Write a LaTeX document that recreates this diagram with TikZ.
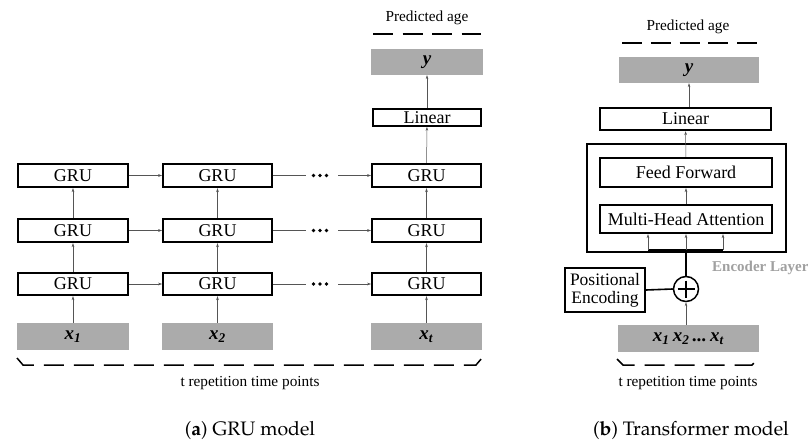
\documentclass[tikz,border=0pt]{standalone}
\usepackage{fontspec}
\setmainfont{Liberation Serif}
\usetikzlibrary{arrows.meta,calc}
\definecolor{boxgray}{HTML}{ABABAB}
\definecolor{encgray}{HTML}{A0A0A0}
\definecolor{arrgray}{HTML}{555555}
\newcommand{\bx}[1]{\textbf{\textit{x}}\textsubscript{\textbf{\textit{#1}}}}
\newcommand{\capfont}{\fontencoding{OT1}\fontfamily{ppl}\fontsize{19.5}{22}\selectfont}
\begin{document}
\begin{tikzpicture}[x=1pt,y=-1pt,
  blk/.style={draw, line width=1.8pt, inner sep=0pt, font=\fontsize{18}{18}\selectfont},
  graybox/.style={fill=boxgray, inner sep=0pt, font=\fontsize{19}{19}\selectfont},
  arr/.style={draw=arrgray, line width=0.5pt, -{Stealth[length=4pt,width=2.6pt]}},
  thinln/.style={draw=arrgray, line width=0.5pt},
  thk/.style={draw, line width=1.6pt},
  brk/.style={draw, line width=1.5pt, dash pattern=on 20pt off 10pt},
  smalltxt/.style={font=\fontsize{15.3}{16}\selectfont, inner sep=0pt}
]
\useasboundingbox (0,0) rectangle (808,446);

% ---------- GRU model ----------
\foreach \c/\cx/\w in {1/73/110, 2/217.5/109, 3/426.5/109}{
  \node[blk, minimum width=\w pt, minimum height=23.5pt] (g\c3) at (\cx,175.5) {GRU};
  \node[blk, minimum width=\w pt, minimum height=23.5pt] (g\c2) at (\cx,230.5) {GRU};
  \node[blk, minimum width=\w pt, minimum height=22.5pt] (g\c1) at (\cx,284) {GRU};
}
\node[graybox, minimum width=112pt, minimum height=27pt] (x1) at (73,336.5) {\bx{1}};
\node[graybox, minimum width=111pt, minimum height=27pt] (x2) at (217.5,336.5) {\bx{2}};
\node[graybox, minimum width=111pt, minimum height=27pt] (xt) at (426.5,336.5) {\bx{t}};

\foreach \c/\x in {1/x1, 2/x2, 3/xt}{
  \draw[arr] (\x) -- (g\c1);
  \draw[arr] (g\c1) -- (g\c2);
  \draw[arr] (g\c2) -- (g\c3);
}
\foreach \r/\yy in {1/284, 2/230.5, 3/175.5}{
  \draw[arr] (g1\r) -- (g2\r);
  \coordinate (dl\r) at (306,\yy);
  \coordinate (dr\r) at (338,\yy);
  \draw[thinln] (g2\r) -- (dl\r);
  \draw[arr] (dr\r) -- (g3\r);
  \foreach \dx in {313.5,320,326.5}{\fill (\dx,\yy) circle (1.8pt);}
}
\node[blk, minimum width=108pt, minimum height=17pt] (lin1) at (427,117.5) {Linear};
\node[graybox, minimum width=112pt, minimum height=26pt] (y1) at (427,62) {\textbf{\textit{y}}};
\draw[arr] (g33) -- (lin1);
\draw[arr] (lin1) -- (y1);
\coordinate (pa1l) at (373,34);
\coordinate (pa1r) at (481,34);
\draw[line width=1.5pt, dash pattern=on 20pt off 9.5pt] (pa1l) -- (pa1r);
\node[smalltxt] (pred1) at (427,18) {Predicted age};

\coordinate (bl1) at (17,358);
\coordinate (bl2) at (23,365);
\coordinate (bl3) at (476,365);
\coordinate (bl4) at (482,358);
\draw[brk] (bl1) -- (bl2) -- (bl3) -- (bl4);
\node[smalltxt] (trep1) at (250,383) {t repetition time points};

% ---------- Transformer model ----------
\node[smalltxt] (pred2) at (688,27) {Predicted age};
\coordinate (pa2l) at (622,43);
\coordinate (pa2r) at (757,43);
\draw[line width=1.5pt, dash pattern=on 20pt off 8.75pt] (pa2l) -- (pa2r);
\node[graybox, minimum width=140pt, minimum height=26pt] (y2) at (689,70) {\textbf{\textit{y}}};
\node[blk, minimum width=171pt, minimum height=22.5pt] (lin2) at (685.5,119) {Linear};
\node[draw, line width=1.8pt, inner sep=0pt, minimum width=199pt, minimum height=108pt] (enc) at (686.5,198) {};
\node[blk, minimum width=172pt, minimum height=29.5pt] (ff) at (686,172.5) {Feed Forward};
\node[blk, minimum width=172pt, minimum height=28.5pt] (mha) at (686,219) {Multi-Head Attention};
\node[font=\bfseries\fontsize{15}{15}\selectfont, text=encgray, anchor=west, inner sep=0pt] (enclab) at (712,268) {Encoder Layer};
\node[draw, circle, line width=1.5pt, minimum size=25pt, inner sep=0pt] (circ) at (686,289) {};
\draw[line width=1.2pt] ($(circ.center)+(-8.5,0)$) -- ($(circ.center)+(8.5,0)$);
\draw[line width=1.2pt] ($(circ.center)+(0,-8.5)$) -- ($(circ.center)+(0,8.5)$);
\node[blk, align=center, minimum width=80pt, minimum height=44.5pt, font=\fontsize{17.5}{18}\selectfont] (pe) at (605,290) {Positional\\Encoding};
\node[graybox, minimum width=141pt, minimum height=27pt] (xs) at (688.5,338.5) {\bx{1}\,\bx{2}\,\textbf{\textit{...}}\,\bx{t}};

\draw[arr] (y2 |- lin2.north) -- (y2.south);
\draw[arr] (ff) -- (lin2);
\draw[arr] (mha) -- (ff);
\coordinate (b1) at (648,250);
\coordinate (b2) at (686,250);
\coordinate (b3) at (723,250);
\draw[thk] (b1) -- (b3);
\draw[arr] (b1) -- (b1 |- mha.south);
\draw[arr] (b2) -- (b2 |- mha.south);
\draw[arr] (b3) -- (b3 |- mha.south);
\draw[thk] (b2) -- (circ.north);
\draw[thk] (pe.east) -- (circ.west);
\draw[arr] (xs.north -| circ.south) -- (circ.south);

\coordinate (br1) at (617,359);
\coordinate (br2) at (623,365);
\coordinate (br3) at (752,365);
\coordinate (br4) at (758,359);
\draw[brk] (br1) -- (br2) -- (br3) -- (br4);
\node[smalltxt] (trep2) at (688,383) {t repetition time points};

% ---------- captions ----------
\node[inner sep=0pt] (capa) at (250,430) {\capfont(\textbf{a})\ GRU model};
\node[inner sep=0pt] (capb) at (691,430) {\capfont(\textbf{b})\ Transformer model};
\end{tikzpicture}
\end{document}
